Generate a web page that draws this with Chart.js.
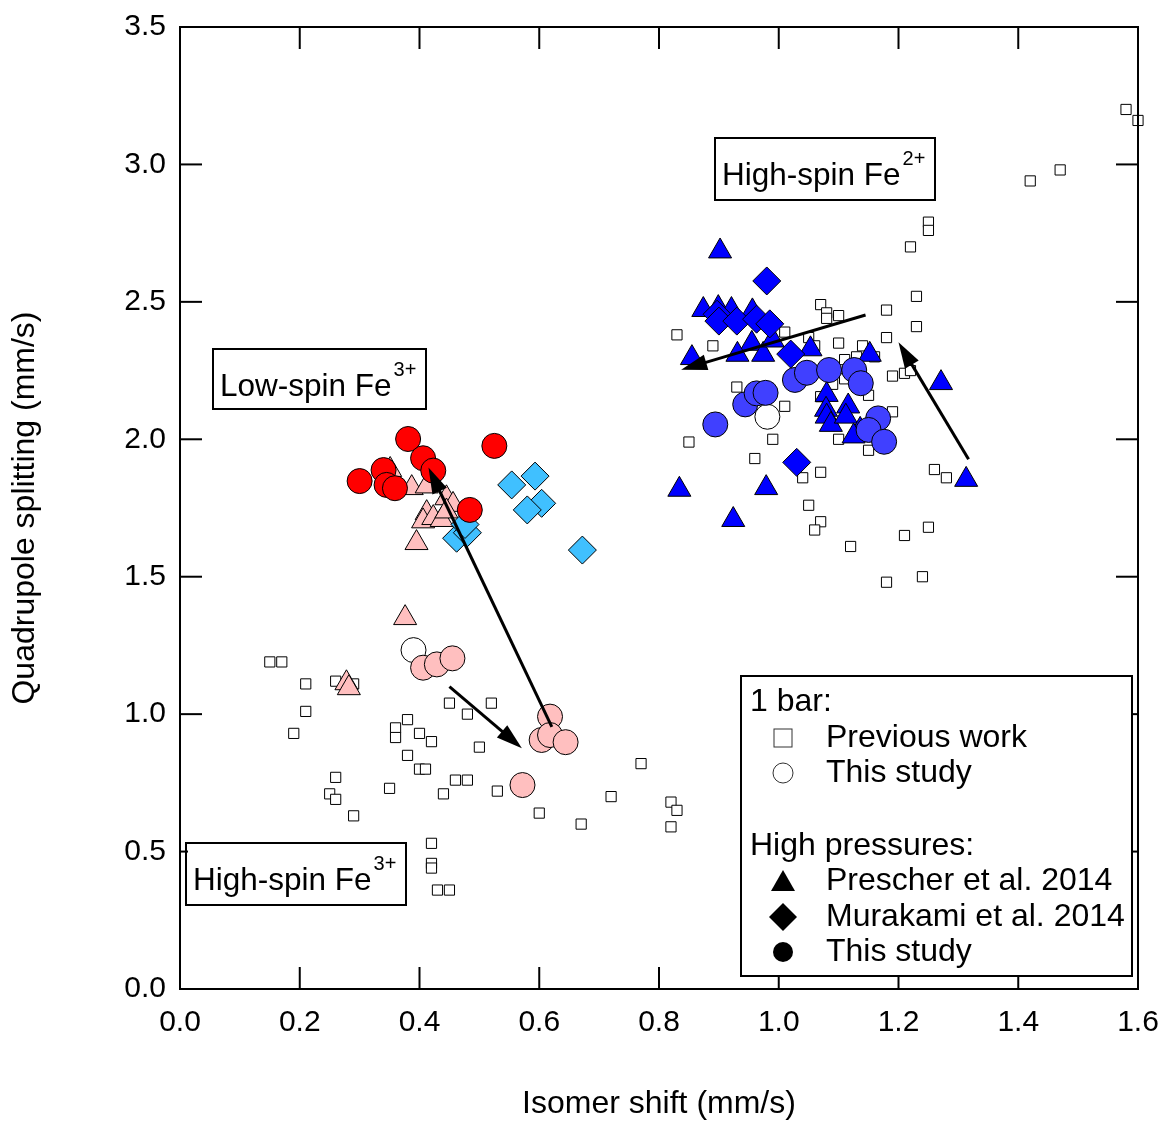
<!DOCTYPE html>
<html>
<head>
<meta charset="utf-8">
<title>Isomer shift vs quadrupole splitting</title>
<script src="https://cdn.jsdelivr.net/npm/chart.js@4.4.1/dist/chart.umd.min.js"></script>
<style>
  body { margin: 0; background: #fff; }
  canvas { display: block; }
</style>
</head>
<body>
<canvas id="my-chart" width="1164" height="1121"></canvas>
<script>
'use strict';

// *********** DATA (isomer shift, quadrupole splitting) ****************

// 1 bar, previous work
let prevWork = [
  [0.15, 1.19], [0.17, 1.19], [0.21, 1.11], [0.21, 1.01], [0.19, 0.93], [0.26, 1.12], [0.29, 1.11],
  [0.38, 0.98], [0.36, 0.95], [0.36, 0.915], [0.40, 0.93], [0.42, 0.90], [0.38, 0.85], [0.40, 0.80],
  [0.41, 0.80], [0.45, 1.04], [0.52, 1.04], [0.48, 1.00], [0.50, 0.88], [0.46, 0.76], [0.48, 0.76],
  [0.44, 0.71], [0.53, 0.72], [0.35, 0.73], [0.26, 0.77], [0.25, 0.71], [0.26, 0.69], [0.29, 0.63],
  [0.42, 0.53], [0.42, 0.457], [0.42, 0.44], [0.43, 0.36], [0.45, 0.36],
  [0.77, 0.82], [0.72, 0.70], [0.82, 0.68], [0.83, 0.65], [0.82, 0.59], [0.67, 0.60], [0.60, 0.64],
  [1.25, 2.79], [1.25, 2.76], [1.22, 2.70], [1.23, 2.52], [1.23, 2.41], [1.18, 2.47], [1.18, 2.37],
  [1.07, 2.49], [1.08, 2.46], [1.08, 2.44], [1.10, 2.45], [0.83, 2.38], [0.89, 2.34], [1.01, 2.39],
  [1.05, 2.37], [1.10, 2.35], [1.14, 2.34], [1.06, 2.34], [1.11, 2.29], [1.13, 2.30], [1.16, 2.30],
  [1.19, 2.23], [1.21, 2.24], [1.22, 2.25], [0.93, 2.19], [1.01, 2.12], [1.19, 2.10], [1.09, 2.20],
  [1.11, 2.22], [1.15, 2.16], [1.07, 2.155], [0.85, 1.99], [0.99, 2.00], [0.96, 1.93], [1.10, 2.00],
  [1.15, 1.96], [1.07, 1.88], [1.04, 1.86], [1.26, 1.89], [1.28, 1.86], [1.05, 1.76], [1.07, 1.70],
  [1.06, 1.67], [1.12, 1.61], [1.21, 1.65], [1.25, 1.68], [1.18, 1.48], [1.24, 1.50],
  [1.42, 2.94], [1.47, 2.98], [1.58, 3.20], [1.60, 3.16]
];

// 1 bar, this study
let barStudy = [[0.39, 1.233], [0.981, 2.082]];

// high pressure, Prescher et al. 2014
let prescherFe3 = [
  [0.351, 1.889], [0.387, 1.823], [0.412, 1.829], [0.445, 1.786], [0.456, 1.762], [0.412, 1.732],
  [0.406, 1.702], [0.423, 1.714], [0.437, 1.707], [0.445, 1.738], [0.395, 1.623], [0.376, 1.35],
  [0.278, 1.113], [0.282, 1.095]
];
let prescherFe2 = [
  [0.902, 2.684], [0.874, 2.471], [0.899, 2.478], [0.921, 2.471], [0.956, 2.466], [0.955, 2.348],
  [0.855, 2.296], [0.931, 2.308], [0.974, 2.308], [0.99, 2.36], [1.053, 2.328], [1.152, 2.308],
  [1.271, 2.205], [1.08, 2.162], [1.079, 2.108], [1.08, 2.083], [1.087, 2.053], [1.116, 2.12],
  [1.112, 2.083], [1.136, 2.035], [1.125, 2.011], [0.834, 1.817], [0.979, 1.823], [1.313, 1.853],
  [0.924, 1.707]
];

// high pressure, Murakami et al. 2014
let murakamiFe3 = [
  [0.554, 1.834], [0.593, 1.866], [0.604, 1.767], [0.58, 1.743], [0.672, 1.597], [0.462, 1.64],
  [0.48, 1.66], [0.476, 1.69]
];
let murakamiFe2 = [
  [0.98, 2.576], [0.897, 2.455], [0.90, 2.43], [0.93, 2.43], [0.963, 2.437], [0.985, 2.42],
  [1.02, 2.31], [1.03, 1.916]
];

// high pressure, this study
let studyLowSpin = [
  [0.30, 1.848], [0.34, 1.888], [0.345, 1.834], [0.359, 1.822], [0.381, 2.001], [0.406, 1.931],
  [0.423, 1.886], [0.484, 1.743], [0.525, 1.976]
];
let studyHighSpin3 = [
  [0.406, 1.169], [0.429, 1.181], [0.455, 1.203], [0.618, 0.991], [0.604, 0.906], [0.618, 0.924],
  [0.644, 0.898], [0.572, 0.742]
];
let studyHighSpin2 = [
  [0.894, 2.054], [0.944, 2.127], [0.963, 2.167], [0.978, 2.169], [1.027, 2.216], [1.047, 2.242],
  [1.084, 2.252], [1.126, 2.252], [1.137, 2.204], [1.166, 2.076], [1.15, 2.034], [1.176, 1.991]
];

// arrows: from [x, y] to [x, y]
let arrows = [
  [0.621, 0.954, 0.415, 1.897],
  [0.450, 1.100, 0.571, 0.876],
  [1.145, 2.452, 0.837, 2.253],
  [1.317, 1.927, 1.200, 2.353]
];

let xTicks = [0, 1.6, 0.2];
let yTicks = [0, 3.5, 0.5];

// ********** HELPERS ********************

const FONT = '"Liberation Sans", Arial, Helvetica, sans-serif';
Chart.defaults.font.family = FONT;
Chart.defaults.color = '#000';

function makeSet(label, pts, style, radius, color, order) {
  return {
    label: label,
    data: pts.map(p => ({ x: p[0], y: p[1] })),
    pointStyle: style,
    pointRadius: radius,
    pointHoverRadius: radius,
    backgroundColor: color,
    borderColor: '#000',
    borderWidth: 1,
    order: order,
    clip: false
  };
}

function line(ctx, x1, y1, x2, y2) {
  ctx.beginPath();
  ctx.moveTo(x1, y1);
  ctx.lineTo(x2, y2);
  ctx.stroke();
}

function drawArrow(ctx, x1, y1, x2, y2) {
  let dx = x2 - x1, dy = y2 - y1;
  let len = Math.sqrt(dx * dx + dy * dy);
  let ux = dx / len, uy = dy / len;
  let head = 26, half = 8;
  let bx = x2 - ux * head, by = y2 - uy * head;
  ctx.lineWidth = 3;
  line(ctx, x1, y1, bx + ux * 2, by + uy * 2);
  ctx.beginPath();
  ctx.moveTo(x2, y2);
  ctx.lineTo(bx - uy * half, by + ux * half);
  ctx.lineTo(bx + uy * half, by - ux * half);
  ctx.closePath();
  ctx.fill();
}

function drawLabelBox(ctx, x, y, w, h, text, sup) {
  ctx.lineWidth = 2;
  ctx.strokeRect(x, y, w, h);
  ctx.textAlign = 'left';
  ctx.textBaseline = 'alphabetic';
  ctx.font = '31.5px ' + FONT;
  ctx.fillText(text, x + 7, y + 47);
  let tw = ctx.measureText(text).width;
  ctx.font = '20px ' + FONT;
  ctx.fillText(sup, x + 7 + tw + 2, y + 27);
}

// ********** PLUGIN: frame, ticks, arrows, labels, legend *********

const decorPlugin = {
  id: 'decor',
  afterDatasetsDraw(chart) {
    const { ctx, chartArea: a, scales } = chart;
    const xs = scales.x, ys = scales.y;
    ctx.save();
    ctx.strokeStyle = '#000';
    ctx.fillStyle = '#000';

    arrows.forEach(ar => {
      drawArrow(ctx, xs.getPixelForValue(ar[0]), ys.getPixelForValue(ar[1]),
        xs.getPixelForValue(ar[2]), ys.getPixelForValue(ar[3]));
    });

    ctx.lineWidth = 2;
    ctx.strokeRect(a.left, a.top, a.right - a.left, a.bottom - a.top);
    xs.ticks.forEach(t => {
      let px = xs.getPixelForValue(t.value);
      line(ctx, px, a.bottom, px, a.bottom - 22);
      line(ctx, px, a.top, px, a.top + 22);
    });
    ys.ticks.forEach(t => {
      let py = ys.getPixelForValue(t.value);
      line(ctx, a.left, py, a.left + 22, py);
      line(ctx, a.right, py, a.right - 22, py);
    });

    // region labels
    ctx.fillStyle = '#fff';
    ctx.fillRect(215, 351, 209, 56);
    ctx.fillRect(717, 140, 216, 58);
    ctx.fillRect(188, 845, 216, 58);
    ctx.fillStyle = '#000';
    drawLabelBox(ctx, 213, 349, 213, 60, 'Low-spin Fe', '3+');
    drawLabelBox(ctx, 715, 138, 220, 62, 'High-spin Fe', '2+');
    drawLabelBox(ctx, 186, 843, 220, 62, 'High-spin Fe', '3+');

    // legend
    ctx.fillStyle = '#fff';
    ctx.fillRect(741, 676, 391, 300);
    ctx.fillStyle = '#000';
    ctx.lineWidth = 2;
    ctx.strokeRect(741, 676, 391, 300);
    ctx.font = '32px ' + FONT;
    ctx.textBaseline = 'middle';
    ctx.textAlign = 'left';
    ctx.fillText('1 bar:', 750, 702);
    ctx.fillText('Previous work', 826, 738);
    ctx.fillText('This study', 826, 773);
    ctx.fillText('High pressures:', 750, 846);
    ctx.fillText('Prescher et al. 2014', 826, 881);
    ctx.fillText('Murakami et al. 2014', 826, 917);
    ctx.fillText('This study', 826, 952);

    const sx = 783;
    ctx.lineWidth = 1;
    ctx.strokeStyle = '#333';
    ctx.strokeRect(sx - 9, 729, 18, 18);
    ctx.beginPath();
    ctx.arc(sx, 773, 10, 0, Math.PI * 2);
    ctx.stroke();
    ctx.beginPath();
    ctx.moveTo(sx, 870);
    ctx.lineTo(sx + 12, 891);
    ctx.lineTo(sx - 12, 891);
    ctx.closePath();
    ctx.fill();
    ctx.beginPath();
    ctx.moveTo(sx, 903);
    ctx.lineTo(sx + 14, 917);
    ctx.lineTo(sx, 931);
    ctx.lineTo(sx - 14, 917);
    ctx.closePath();
    ctx.fill();
    ctx.beginPath();
    ctx.arc(sx, 952, 10, 0, Math.PI * 2);
    ctx.fill();

    ctx.restore();
  }
};

// ********** CHART ********************

let ctx = document.getElementById('my-chart').getContext('2d');

let myChartObj = {
  type: 'scatter',
  data: {
    datasets: [
      makeSet('This study (low-spin Fe3+)', studyLowSpin, 'circle', 12.5, '#ff0000', 0),
      makeSet('This study (high-spin Fe3+)', studyHighSpin3, 'circle', 12.5, '#ffbfbf', 0),
      makeSet('This study (high-spin Fe2+)', studyHighSpin2, 'circle', 12.5, '#4040ff', 0),
      makeSet('This study 1 bar', barStudy, 'circle', 12.5, '#ffffff', 1),
      makeSet('Murakami et al. 2014 (Fe3+)', murakamiFe3, 'rectRot', 14, '#40c0ff', 2),
      makeSet('Murakami et al. 2014 (Fe2+)', murakamiFe2, 'rectRot', 14, '#0000ff', 2),
      makeSet('Prescher et al. 2014 (Fe3+)', prescherFe3, 'triangle', 13.3, '#ffbfbf', 3),
      makeSet('Prescher et al. 2014 (Fe2+)', prescherFe2, 'triangle', 13.3, '#0000ff', 3),
      makeSet('Previous work', prevWork, 'rect', 7.2, '#ffffff', 4)
    ]
  },
  options: {
    responsive: false,
    animation: false,
    events: [],
    layout: { padding: { top: 27, right: 26, left: 0, bottom: 0 } },
    plugins: {
      legend: { display: false },
      tooltip: { enabled: false }
    },
    scales: {
      x: {
        type: 'linear',
        min: xTicks[0],
        max: xTicks[1],
        ticks: { stepSize: xTicks[2], padding: 16, font: { size: 30 }, color: '#000', callback: v => v.toFixed(1) },
        grid: { display: false, drawTicks: false },
        border: { display: false },
        title: { display: true, text: 'Isomer shift (mm/s)', color: '#000', font: { size: 32, lineHeight: 1 }, padding: { top: 0, bottom: 0.5 } },
        // fixed height, and no extra room for the end labels
        afterFit: s => { s.height = 132; s.paddingLeft = 0; s.paddingRight = 0; }
      },
      y: {
        type: 'linear',
        min: yTicks[0],
        max: yTicks[1],
        ticks: { stepSize: yTicks[2], padding: 14, font: { size: 30 }, color: '#000', callback: v => v.toFixed(1) },
        grid: { display: false, drawTicks: false },
        border: { display: false },
        title: { display: true, text: 'Quadrupole splitting (mm/s)', color: '#000', font: { size: 32, lineHeight: 1 }, padding: { top: 9.5, bottom: 0 } },
        afterFit: s => { s.width = 180; s.paddingTop = 0; s.paddingBottom = 0; }
      }
    }
  },
  plugins: [decorPlugin]
};

new Chart(ctx, myChartObj);
</script>
</body>
</html>
